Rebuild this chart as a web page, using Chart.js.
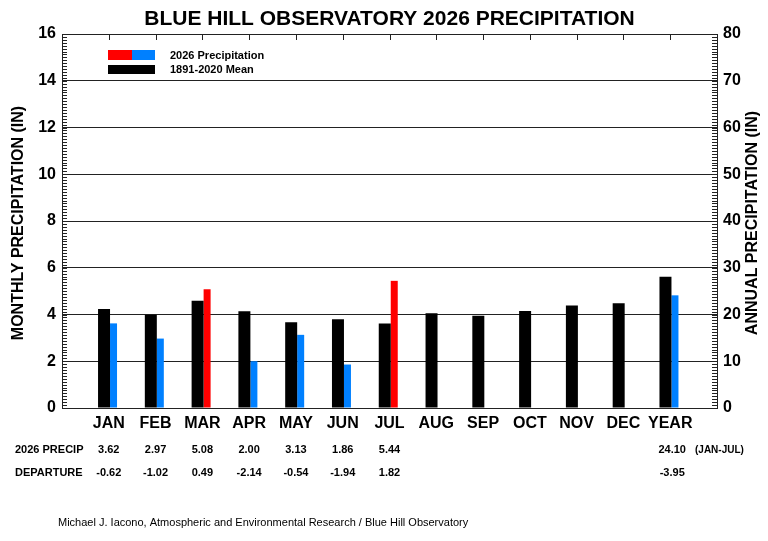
<!DOCTYPE html>
<html>
<head>
<meta charset="utf-8">
<title>Blue Hill Observatory 2026 Precipitation</title>
<script src="https://cdn.jsdelivr.net/npm/chart.js@4.4.1/dist/chart.umd.min.js"></script>
<style>
  html, body { margin: 0; padding: 0; background: #fff; }
  #wrap { width: 768px; height: 541px; position: relative; }
</style>
</head>
<body>
<div id="wrap"><canvas id="precipChart"></canvas></div>
<script>
const months = ["JAN", "FEB", "MAR", "APR", "MAY", "JUN", "JUL", "AUG", "SEP", "OCT", "NOV", "DEC"];
const yearLabel = "YEAR";

// 1891-2020 monthly means (in)
const meanMonthly = [4.24, 3.99, 4.59, 4.14, 3.67, 3.80, 3.62, 4.05, 3.95, 4.15, 4.39, 4.48];
// 2026 observed so far (in)
const precip2026 = [3.62, 2.97, 5.08, 2.00, 3.13, 1.86, 5.44];
const departure2026 = [-0.62, -1.02, 0.49, -2.14, -0.54, -1.94, 1.82];

// year-to-date totals (annual axis)
const yearMean = 28.05;
const yearPrecip = 24.10;
const yearDeparture = -3.95;
const yearPeriod = "(JAN-JUL)";

const monthlyTicks = [0, 2, 4, 6, 8, 10, 12, 14, 16];
const annualTicks = [0, 10, 20, 30, 40, 50, 60, 70, 80];

const RED = "#ff0000";
const BLUE = "#0080ff";
const FONT = "'Liberation Sans', Arial, Helvetica, sans-serif";

const xLabels = ["", ...months, yearLabel, ""];
const yearPos = months.length + 1;

function barColor(dep) {
  return dep > 0 ? RED : BLUE;
}

// draws the frame ticks, legend, value rows and titles
const extras = {
  id: "extras",
  afterDraw(chart) {
    const { ctx, chartArea: area, scales } = chart;
    const x = scales.x, y = scales.y, y2 = scales.y2;
    ctx.save();

    ctx.strokeStyle = "#222";
    ctx.lineWidth = 1;
    ctx.beginPath();
    for (let k = 0; k <= 128; k++) {
      const py = Math.round(y.getPixelForValue(k * 0.125)) + 0.5;
      ctx.moveTo(area.left, py);
      ctx.lineTo(area.left + 5, py);
    }
    for (let k = 0; k <= 128; k++) {
      const py = Math.round(y2.getPixelForValue(k * 0.625)) + 0.5;
      ctx.moveTo(area.right, py);
      ctx.lineTo(area.right - 5, py);
    }
    for (let i = 1; i <= yearPos; i++) {
      const px = Math.round(x.getPixelForValue(i)) + 0.5;
      ctx.moveTo(px, area.top);
      ctx.lineTo(px, area.top + 6);
    }
    ctx.stroke();

    // title
    const midX = (area.left + area.right) / 2;
    ctx.fillStyle = "#000";
    ctx.textAlign = "center";
    ctx.textBaseline = "middle";
    ctx.font = "bold 21px " + FONT;
    ctx.fillText("BLUE HILL OBSERVATORY 2026 PRECIPITATION", midX, 19);

    // axis titles
    const midY = 223;
    ctx.font = "bold 16px " + FONT;
    ctx.save();
    ctx.translate(19, midY);
    ctx.rotate(-Math.PI / 2);
    ctx.fillText("MONTHLY PRECIPITATION (IN)", 0, 0);
    ctx.restore();
    ctx.save();
    ctx.translate(753, midY);
    ctx.rotate(-Math.PI / 2);
    ctx.fillText("ANNUAL PRECIPITATION (IN)", 0, 0);
    ctx.restore();

    // legend
    ctx.fillStyle = RED;
    ctx.fillRect(108, 50, 24, 10);
    ctx.fillStyle = BLUE;
    ctx.fillRect(132, 50, 23, 10);
    ctx.fillStyle = "#000";
    ctx.fillRect(108, 65, 47, 9);
    ctx.font = "bold 11px " + FONT;
    ctx.textAlign = "left";
    ctx.fillText("2026 Precipitation", 170, 55.5);
    ctx.fillText("1891-2020 Mean", 170, 70);

    // value rows under the axis
    const rowPrecip = 450, rowDep = 473;
    ctx.fillText("2026 PRECIP", 15, rowPrecip);
    ctx.fillText("DEPARTURE", 15, rowDep);
    ctx.textAlign = "center";
    precip2026.forEach((v, i) => {
      const px = x.getPixelForValue(i + 1);
      ctx.fillText(v.toFixed(2), px, rowPrecip);
      ctx.fillText(departure2026[i].toFixed(2), px, rowDep);
    });
    const yx = x.getPixelForValue(yearPos) + 2;
    ctx.fillText(yearPrecip.toFixed(2), yx, rowPrecip);
    ctx.fillText(yearDeparture.toFixed(2), yx, rowDep);
    ctx.textAlign = "left";
    ctx.font = "bold 10px " + FONT;
    ctx.fillText(yearPeriod, 695, rowPrecip);

    // credit line
    ctx.font = "11px " + FONT;
    ctx.fillText("Michael J. Iacono, Atmospheric and Environmental Research / Blue Hill Observatory", 58, 523);

    ctx.restore();
  }
};

const barGroup = {
  categoryPercentage: 0.406,
  borderWidth: 0,
  borderSkipped: false
};

new Chart(document.getElementById("precipChart"), {
  type: "bar",
  data: {
    datasets: [
      {
        ...barGroup,
        label: "1891-2020 Mean",
        stack: "mean",
        yAxisID: "y",
        barPercentage: 1.263,
        backgroundColor: "#000",
        data: meanMonthly.map((v, i) => ({ x: i + 1, y: v }))
      },
      {
        ...barGroup,
        label: "2026 Precipitation",
        stack: "obs",
        yAxisID: "y",
        barPercentage: 0.737,
        backgroundColor: departure2026.map(barColor),
        data: precip2026.map((v, i) => ({ x: i + 1, y: v }))
      },
      {
        ...barGroup,
        label: "Mean YTD",
        stack: "mean",
        yAxisID: "y2",
        barPercentage: 1.263,
        backgroundColor: "#000",
        data: [{ x: yearPos, y: yearMean }]
      },
      {
        ...barGroup,
        label: "2026 YTD",
        stack: "obs",
        yAxisID: "y2",
        barPercentage: 0.737,
        backgroundColor: barColor(yearDeparture),
        data: [{ x: yearPos, y: yearPrecip }]
      }
    ]
  },
  options: {
    responsive: true,
    maintainAspectRatio: false,
    animation: false,
    layout: { padding: { top: 34, left: 0, right: 0, bottom: 103 } },
    plugins: {
      legend: { display: false },
      title: { display: false },
      tooltip: { enabled: false }
    },
    scales: {
      x: {
        type: "linear",
        offset: false,
        min: 0,
        max: xLabels.length - 1,
        grid: { display: false, offset: false, drawTicks: false },
        border: { display: false },
        afterFit: (s) => { s.height = 30; },
        ticks: {
          stepSize: 1,
          autoSkip: false,
          maxRotation: 0,
          padding: 6,
          color: "#000",
          font: { family: FONT, size: 16, weight: "bold" },
          callback: (v) => xLabels[v] || ""
        }
      },
      y: {
        position: "left",
        min: 0,
        max: 16,
        stacked: false,
        afterFit: (s) => { s.width = 62; },
        afterBuildTicks: (s) => { s.ticks = monthlyTicks.map(v => ({ value: v })); },
        grid: { color: "#222", lineWidth: 1, drawTicks: false },
        border: { display: true, color: "#222", width: 1 },
        ticks: {
          padding: 6,
          color: "#000",
          font: { family: FONT, size: 16, weight: "bold" }
        }
      },
      y2: {
        position: "right",
        min: 0,
        max: 80,
        stacked: false,
        afterFit: (s) => { s.width = 51; },
        afterBuildTicks: (s) => { s.ticks = annualTicks.map(v => ({ value: v })); },
        grid: { drawOnChartArea: false, drawTicks: false },
        border: { display: true, color: "#222", width: 1 },
        ticks: {
          padding: 6,
          color: "#000",
          font: { family: FONT, size: 16, weight: "bold" }
        }
      }
    }
  },
  plugins: [extras]
});
</script>
</body>
</html>
